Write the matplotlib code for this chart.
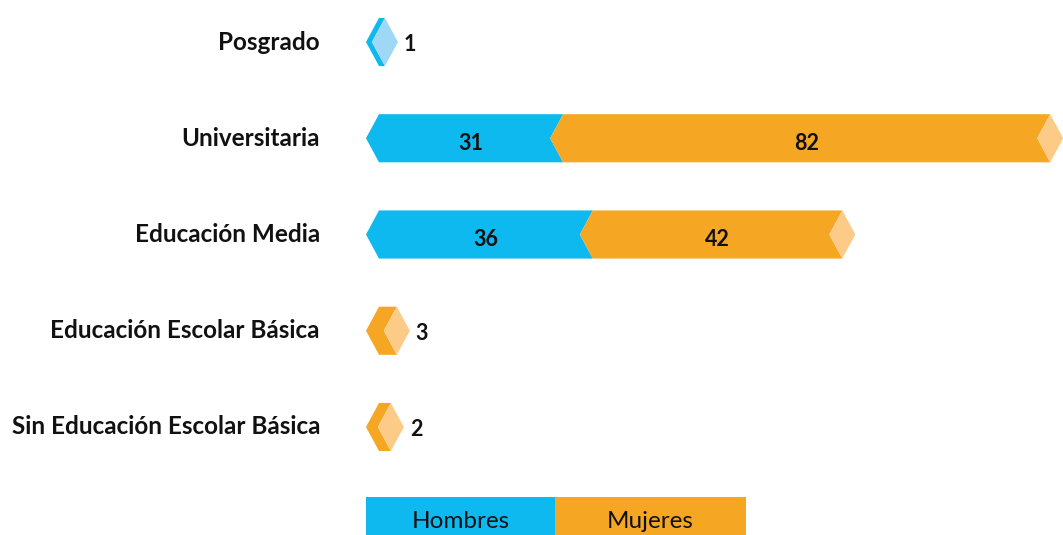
import matplotlib
matplotlib.use("Agg")
import matplotlib.pyplot as plt
from matplotlib.patches import Polygon, Rectangle

categories = ["Posgrado", "Universitaria", "Educación Media",
              "Educación Escolar Básica", "Sin Educación Escolar Básica"]
hombres = [1, 31, 36, 0, 0]
mujeres = [0, 82, 42, 3, 2]
series_names = ["Hombres", "Mujeres"]

colors = ["#0DB9EE", "#F5A724"]
light = ["#9ED8F5", "#FDCB88"]

FONT = "Lato"
W, H = 1063, 535
fig = plt.figure(figsize=(W / 100, H / 100), dpi=100)

px_per_unit = 5.94
x0_px = 366
ax_left = x0_px / W
ax_w = (W - x0_px) / W
xmax = (W - x0_px) / px_per_unit

row_px = 96.25
first_px = 42
ax_bottom_px = 475
ax = fig.add_axes([ax_left, 1 - ax_bottom_px / H, ax_w, ax_bottom_px / H])
ax.set_xlim(0, xmax)
ax.set_ylim((ax_bottom_px - first_px) / row_px, -first_px / row_px)
ax.axis("off")

d = 13 / px_per_unit   # chevron depth in data units
hh = 0.25              # half bar height in row units

def chevron(x, w, y):
    return [(x, y), (x + d, y - hh), (x + w + d, y - hh), (x + w, y),
            (x + w + d, y + hh), (x + d, y + hh)]

for i, cat in enumerate(categories):
    vals = [hombres[i], mujeres[i]]
    x = 0.0
    last = None
    for s, v in enumerate(vals):
        if v <= 0:
            continue
        ax.add_patch(Polygon(chevron(x, v, i), closed=True, fc=colors[s], ec="none"))
        x += v
        last = s
    # light end cap
    cap = [(x, i), (x + d, i - hh), (x + 2 * d, i), (x + d, i + hh)]
    ax.add_patch(Polygon(cap, closed=True, fc=light[last], ec="none"))
    total = sum(vals)
    if total >= 10:
        xs = 0.0
        for s, v in enumerate(vals):
            if v <= 0:
                continue
            ax.text(xs + v / 2 + d * 1.0, i + 0.05, str(v), ha="center", va="center",
                    fontsize=15.5, fontweight="bold", family=FONT, color="#111111")
            xs += v
    else:
        ax.text(x + 2 * d + 1.0, i + 0.03, str(total), ha="left", va="center",
                fontsize=15.5, fontweight="bold", family=FONT, color="#111111")
    fig.text((x0_px - 46) / W, 1 - (first_px + row_px * i) / H, cat,
             ha="right", va="center", fontsize=17.5, fontweight="bold",
             family=FONT, color="#111111")

# legend
lx = [366, 555]
lw = [189, 191]
for s, name in enumerate(series_names):
    fig.patches.append(Rectangle((lx[s] / W, 0), lw[s] / W, 38 / H,
                                 transform=fig.transFigure, fc=colors[s], ec="none"))
    fig.text((lx[s] + lw[s] / 2) / W, 1 - 521 / H, name, ha="center", va="center",
             fontsize=17.5, family=FONT, color="#111111")

fig.savefig("out.png", dpi=100)
